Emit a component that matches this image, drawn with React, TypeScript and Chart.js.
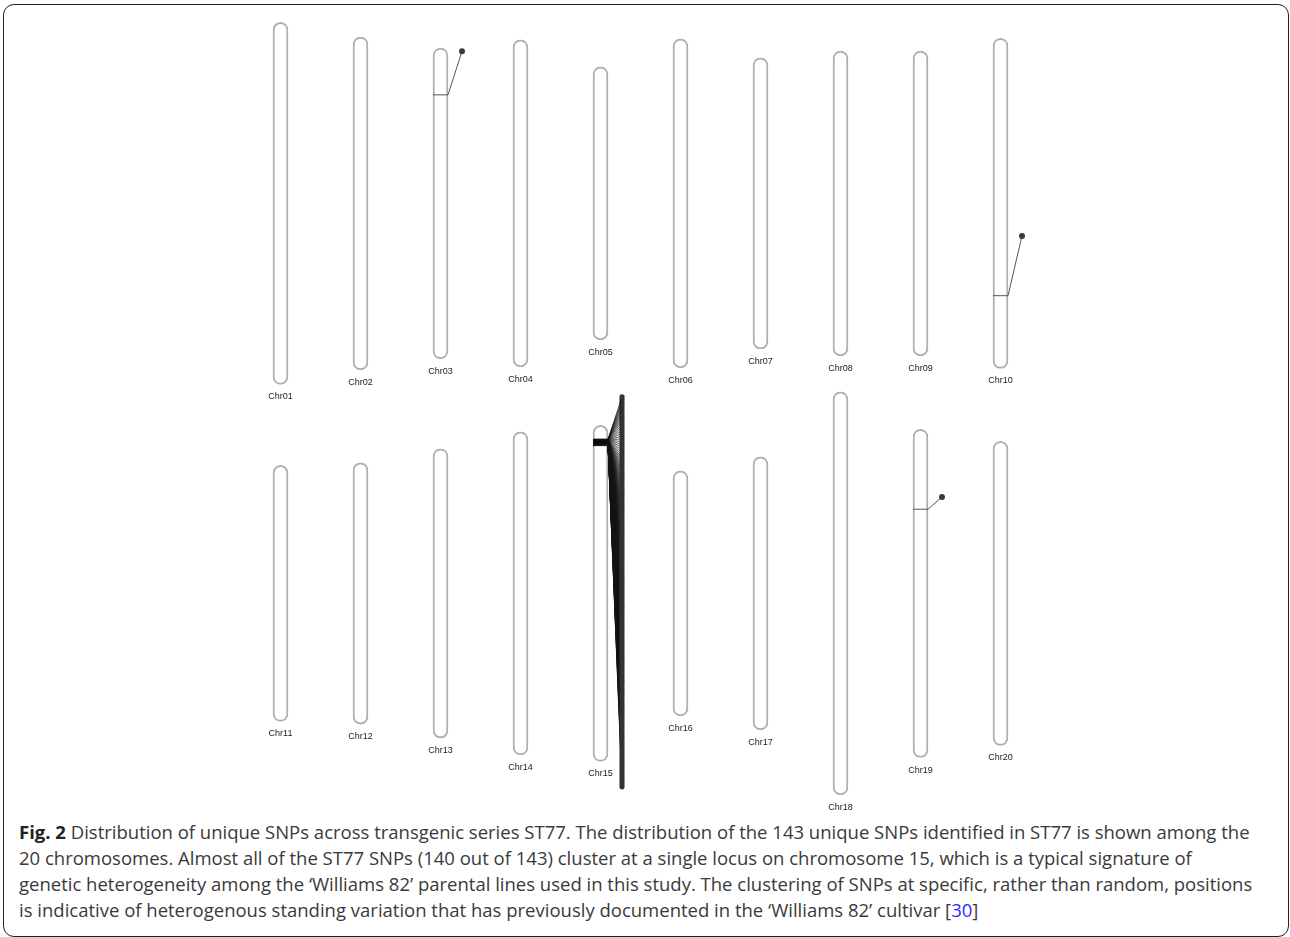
import React, { useEffect, useRef } from 'react';
import { Chart, registerables } from 'chart.js';

Chart.register(...registerables);

// ---------- data ----------
const chromosomes = [
  'Chr01', 'Chr02', 'Chr03', 'Chr04', 'Chr05', 'Chr06', 'Chr07', 'Chr08', 'Chr09', 'Chr10',
  'Chr11', 'Chr12', 'Chr13', 'Chr14', 'Chr15', 'Chr16', 'Chr17', 'Chr18', 'Chr19', 'Chr20',
];
// chromosome lengths (Mb)
const chromLengthsMb = [
  55.7, 51.2, 47.8, 50.3, 42.0, 50.6, 44.8, 46.9, 46.9, 50.8,
  39.4, 40.2, 44.5, 49.7, 51.7, 37.7, 42.0, 62.0, 50.5, 46.8,
];
// vertical centre of each row of chromosomes (Mb units)
const rowCentersMb = [0, 60];

// single SNPs (position along chromosome, Mb) and their label anchors (Mb)
const singleSnpChrom = ['Chr03', 'Chr10', 'Chr19'];
const singleSnpPosMb = [7.2, 39.6, 12.3];
const singleSnpLabelMb = [0.5, 30.4, 10.4];

// cluster of 140 SNPs on Chr15 (position along chromosome, Mb)
const clusterChrom = 'Chr15';
const clusterSnpPosMb = [
  2.14, 2.15, 2.15, 2.16, 2.17, 2.17, 2.18, 2.19, 2.19, 2.20,
  2.21, 2.21, 2.22, 2.22, 2.23, 2.24, 2.24, 2.25, 2.25, 2.26,
  2.27, 2.27, 2.28, 2.28, 2.29, 2.29, 2.30, 2.30, 2.31, 2.31,
  2.32, 2.32, 2.33, 2.33, 2.33, 2.34, 2.34, 2.35, 2.35, 2.36,
  2.36, 2.36, 2.37, 2.37, 2.38, 2.38, 2.38, 2.39, 2.39, 2.40,
  2.40, 2.40, 2.41, 2.41, 2.41, 2.42, 2.42, 2.43, 2.43, 2.43,
  2.44, 2.44, 2.44, 2.45, 2.45, 2.45, 2.46, 2.46, 2.47, 2.47,
  2.47, 2.48, 2.48, 2.48, 2.49, 2.49, 2.50, 2.50, 2.50, 2.51,
  2.51, 2.52, 2.52, 2.52, 2.53, 2.53, 2.54, 2.54, 2.55, 2.55,
  2.56, 2.56, 2.57, 2.57, 2.58, 2.58, 2.59, 2.59, 2.60, 2.60,
  2.61, 2.61, 2.62, 2.63, 2.63, 2.64, 2.64, 2.65, 2.66, 2.66,
  2.67, 2.68, 2.68, 2.69, 2.70, 2.71, 2.71, 2.72, 2.73, 2.74,
  2.75, 2.76, 2.77, 2.78, 2.79, 2.80, 2.82, 2.83, 2.85, 2.86,
  2.88, 2.90, 2.92, 2.94, 2.96, 2.98, 3.01, 3.04, 3.08, 3.12,
];
// label column range for the cluster (Mb along chromosome)
const clusterLabelStartMb = -4.4;
const clusterLabelEndMb = 55.6;

// ---------- layout ----------
const CANVAS_W = 1290;
const CANVAS_H = 815;
const PX_PER_MB = 6.5;
const TOP_ROW_CENTER_PX = 203.4;
const FIRST_COL_PX = 200.5;
const PX_PER_COL = 80;
const HALF_W = 7.5 / PX_PER_COL;
const LABEL_DX = 21.5 / PX_PER_COL;

const colOf = (i: number) => (i % 10) + 1;
const rowOf = (i: number) => Math.floor(i / 10);
const topOf = (i: number) => rowCentersMb[rowOf(i)] - chromLengthsMb[i] / 2;

const labelPlugin = {
  id: 'chromLabels',
  afterDatasetsDraw(chart: any) {
    const { ctx, scales } = chart;
    const x = scales.x;
    const y = scales.y;
    ctx.save();
    ctx.font = '9px "Liberation Sans", Arial, sans-serif';
    ctx.fillStyle = '#222';
    ctx.textAlign = 'center';
    ctx.textBaseline = 'middle';
    chromosomes.forEach((name, i) => {
      const bottom = topOf(i) + chromLengthsMb[i];
      ctx.fillText(name, x.getPixelForValue(colOf(i)), y.getPixelForValue(bottom) + 12.5);
    });
    ctx.restore();
  },
};

function ChromosomeChart() {
  const ref = useRef<HTMLCanvasElement>(null);
  useEffect(() => {
    if (!ref.current) return;
    const datasets: any[] = [];
    datasets.push({
      type: 'bar',
      data: chromosomes.map((_, i) => ({ x: colOf(i), y: [topOf(i), topOf(i) + chromLengthsMb[i]] })),
      backgroundColor: '#ffffff',
      borderColor: '#b0b0b0',
      borderWidth: 2,
      borderRadius: 8,
      borderSkipped: false,
      barThickness: 15,
      grouped: false,
      order: 2,
    });
    singleSnpChrom.forEach((c, k) => {
      const ci = chromosomes.indexOf(c);
      const cx = colOf(ci);
      const yv = topOf(ci) + singleSnpPosMb[k];
      const ly = topOf(ci) + singleSnpLabelMb[k];
      datasets.push({
        type: 'line',
        data: [
          { x: cx - HALF_W, y: yv },
          { x: cx + HALF_W, y: yv },
          { x: cx + LABEL_DX, y: ly },
        ],
        borderColor: '#555',
        borderWidth: 1,
        pointRadius: [0, 0, 3],
        pointBackgroundColor: '#3a3a3a',
        pointBorderWidth: 0,
        tension: 0,
        fill: false,
        order: 0,
      });
    });
    const cci = chromosomes.indexOf(clusterChrom);
    const ccx = colOf(cci);
    const n = clusterSnpPosMb.length;
    clusterSnpPosMb.forEach((p, k) => {
      const yv = topOf(cci) + p;
      const ly = topOf(cci) + clusterLabelStartMb + ((clusterLabelEndMb - clusterLabelStartMb) * k) / (n - 1);
      datasets.push({
        type: 'line',
        data: [
          { x: ccx - HALF_W, y: yv },
          { x: ccx + HALF_W, y: yv },
          { x: ccx + LABEL_DX, y: ly },
        ],
        borderColor: 'rgba(20,20,20,0.85)',
        borderWidth: 0.8,
        pointRadius: [0, 0, 2.6],
        pointBackgroundColor: '#333',
        pointBorderWidth: 0,
        tension: 0,
        fill: false,
        order: 0,
      });
    });

    const chart = new Chart(ref.current, {
      type: 'bar',
      data: { datasets },
      options: {
        responsive: false,
        devicePixelRatio: 1,
        animation: false,
        events: [],
        layout: { padding: 0, autoPadding: false },
        plugins: { legend: { display: false }, tooltip: { enabled: false } },
        scales: {
          x: {
            type: 'linear',
            display: false,
            offset: false,
            min: -FIRST_COL_PX / PX_PER_COL,
            max: (CANVAS_W - FIRST_COL_PX) / PX_PER_COL,
          },
          y: {
            type: 'linear',
            display: false,
            reverse: true,
            min: -TOP_ROW_CENTER_PX / PX_PER_MB,
            max: (CANVAS_H - TOP_ROW_CENTER_PX) / PX_PER_MB,
          },
        },
      } as any,
      plugins: [labelPlugin],
    });
    return () => chart.destroy();
  }, []);
  return (
    <canvas
      ref={ref}
      width={CANVAS_W}
      height={CANVAS_H}
      style={{ position: 'absolute', left: 0, top: 0, width: CANVAS_W, height: CANVAS_H, display: 'block' }}
    />
  );
}

export default function App() {
  return (
    <div style={{ position: 'absolute', left: 0, top: 0, width: 1290, height: 937, background: '#fff', overflow: 'hidden' }}>
      <div
        style={{
          position: 'absolute', left: 3, top: 4, width: 1286, height: 933,
          border: '1.8px solid #222', borderRadius: 11, boxSizing: 'border-box',
        }}
      />
      <ChromosomeChart />
      <div
        style={{
          position: 'absolute', left: 19, top: 819, whiteSpace: 'nowrap',
          fontFamily: '"Open Sans", sans-serif', fontSize: 18.5, lineHeight: '26px', color: '#3a3a3a',
        }}
      >
        <div><b style={{ color: '#222' }}>Fig. 2</b> Distribution of unique SNPs across transgenic series ST77. The distribution of the 143 unique SNPs identified in ST77 is shown among the</div>
        <div>20 chromosomes. Almost all of the ST77 SNPs (140 out of 143) cluster at a single locus on chromosome 15, which is a typical signature of</div>
        <div>genetic heterogeneity among the ‘Williams 82’ parental lines used in this study. The clustering of SNPs at specific, rather than random, positions</div>
        <div>is indicative of heterogenous standing variation that has previously documented in the ‘Williams 82’ cultivar [<span style={{ color: '#2b2bff' }}>30</span>]</div>
      </div>
    </div>
  );
}
